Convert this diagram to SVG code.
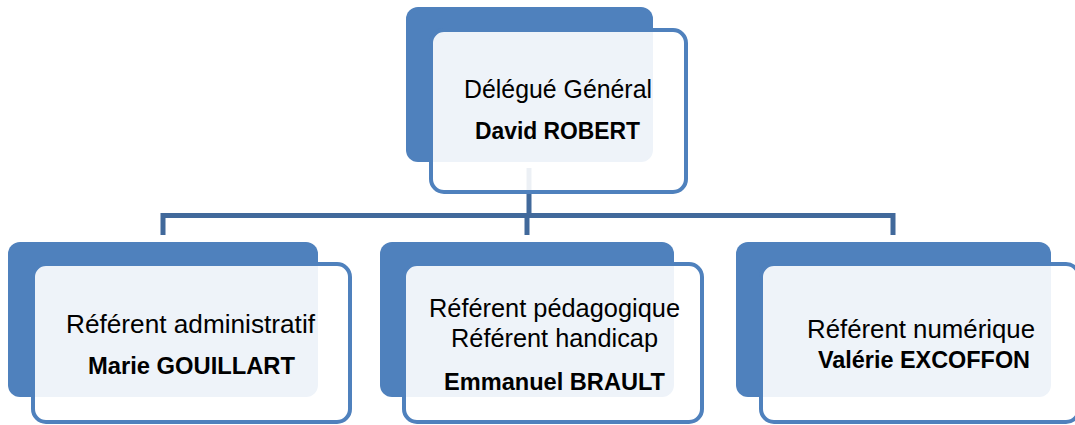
<svg xmlns="http://www.w3.org/2000/svg" width="1075" height="425" viewBox="0 0 1075 425">
<style>
.back{fill:#4f81bd;}
.front{fill:#ffffff;fill-opacity:0.9;stroke:#4f81bd;stroke-width:4;}
.conn{fill:none;stroke:#41699b;stroke-width:5;stroke-linejoin:miter;}
.t{font-family:"Liberation Sans",Arial,sans-serif;font-size:25px;fill:#000;text-anchor:middle;}
.b{font-weight:bold;font-size:24px;}
</style>
<rect width="1075" height="425" fill="#ffffff"/>
<g id="connectors">
<path class="conn" d="M529,168 V215.5"/>
<path class="conn" d="M163,235 V215.5 H893 V235"/>
<path class="conn" d="M527,215.5 V235"/>
</g>
<g id="node-delegue">
<rect class="back" x="406" y="7" width="247" height="155" rx="12"/>
<rect class="front" x="431" y="30" width="255" height="162" rx="13"/>
<text class="t" x="558" y="98" textLength="188" lengthAdjust="spacingAndGlyphs">Délégué Général</text>
<text class="t b" x="557.5" y="139" textLength="165" lengthAdjust="spacingAndGlyphs">David ROBERT</text>
</g>
<g id="node-administratif">
<rect class="back" x="8" y="242" width="310" height="155" rx="12"/>
<rect class="front" x="33" y="264" width="317" height="158" rx="13"/>
<text class="t" x="190.5" y="333" textLength="249" lengthAdjust="spacingAndGlyphs">Référent administratif</text>
<text class="t b" x="191.5" y="374" textLength="207" lengthAdjust="spacingAndGlyphs">Marie GOUILLART</text>
</g>
<g id="node-pedagogique">
<rect class="back" x="380" y="242" width="294" height="155" rx="12"/>
<rect class="front" x="404" y="264" width="298" height="158" rx="13"/>
<text class="t" x="554.5" y="317" textLength="251" lengthAdjust="spacingAndGlyphs">Référent pédagogique</text>
<text class="t" x="554.5" y="347" textLength="207" lengthAdjust="spacingAndGlyphs">Référent handicap</text>
<text class="t b" x="554.5" y="390" textLength="221" lengthAdjust="spacingAndGlyphs">Emmanuel BRAULT</text>
</g>
<g id="node-numerique">
<rect class="back" x="736" y="242" width="315" height="155" rx="12"/>
<rect class="front" x="761" y="264" width="318" height="158" rx="13"/>
<text class="t" x="921" y="338" textLength="228" lengthAdjust="spacingAndGlyphs">Référent numérique</text>
<text class="t b" x="924" y="368" textLength="212" lengthAdjust="spacingAndGlyphs">Valérie EXCOFFON</text>
</g>
</svg>
